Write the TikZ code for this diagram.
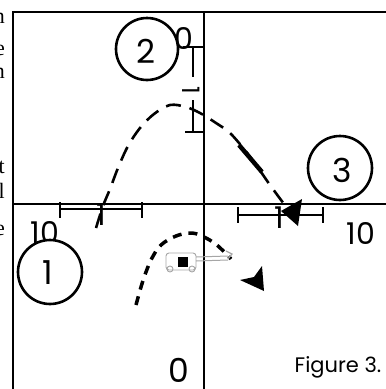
\documentclass[tikz,border=0pt]{standalone}
\usepackage{fontspec}
\setmainfont{Liberation Serif}
\newfontfamily\gothic{Poppins}
\begin{document}
\begin{tikzpicture}[x=1pt,y=-1pt,
  ax/.style={line width=2.6pt},
  framel/.style={line width=2pt},
  bar/.style={line width=2.8pt},
  ring/.style={circle, draw, line width=2.6pt, fill=white, minimum size=62pt, inner sep=0pt},
  num/.style={font=\gothic\fontsize{30}{30}\selectfont, inner sep=0pt},
  bignum/.style={font=\gothic\fontsize{33}{33}\selectfont, inner sep=0pt},
  traj/.style={line width=2.6pt, dash pattern=on 15pt off 9pt},
  trajb/.style={line width=3.5pt, dash pattern=on 9pt off 7pt},
  marg/.style={font=\fontsize{22}{22}\selectfont, anchor=base east, inner sep=0pt}]
\useasboundingbox (0,0) rectangle (386,389);
% margin letters (cut-off page text)
\node[marg] (m1) at (5,23) {n};
\node[marg] (m2) at (5,55) {e};
\node[marg] (m3) at (5,78) {n};
\node[marg] (m4) at (5,173) {t};
\node[marg] (m5) at (5,198) {l};
\node[marg] (m6) at (5,235) {e};
% frame
\draw[framel] (13,389) -- (13,12) -- (386,12);
% axes
\draw[ax] (204,12) -- (204,389);
\draw[ax] (13,204) -- (386,204);
% axis labels
\node[num] (top0) at (184,38) {0};
\node[bignum] (bot0) at (179,370) {0};
\node[num] (l10) at (45,232) {10};
\node[num] (r10) at (361,233) {10};
\node[font=\gothic\fontsize{21}{21}\selectfont, inner sep=0pt] (fig) at (338,367) {Figure 3.};
% error bars
\draw[bar] (60,209) -- (142,209);
\draw[bar] (60,202) -- (60,218);
\draw[bar] (142,202) -- (142,218);
\node[num] (e1) at (101,215) {1};
\draw[bar] (238,215) -- (323,215);
\draw[bar] (238,207) -- (238,223);
\draw[bar] (323,207) -- (323,223);
\node[num] (e2) at (279,218) {1};
\draw[bar] (193,47) -- (193,77);
\draw[bar] (193,100) -- (193,132);
\draw[bar] (183,47) -- (204,47);
\draw[bar] (185,132) -- (205,132);
\node[num, rotate=-90, font=\gothic\fontsize{24}{24}\selectfont] (e3) at (191,90) {1};
% trajectory 1
\draw[traj] plot[smooth, tension=0.55] coordinates {(96,228) (103,206) (110,189) (118,168) (128,146) (140,128) (154,114) (170,105) (186,107) (200,113) (216,123) (231,134) (251,158) (270,185) (284,204)};
\draw[line width=4.5pt] (239,145) -- (262,172);
\fill (281,211) -- (302,199) -- (298,226) -- cycle;
% trajectory 2
\draw[trajb] plot[smooth, tension=0.6] coordinates {(136,305) (141,287) (146,272) (152,258) (161,245) (176,236) (192,233) (206,238) (218,246) (231,259)};
\fill (264,291) -- (240,280) -- (254,277) -- (262,266) -- cycle;
% small object
\draw[gray!70, line width=0.9pt, rounded corners=3pt] (166,253) rectangle (196,270);
\draw[gray!70, line width=0.9pt] (170,269) circle (3pt) (192,269) circle (3pt);
\fill (178,257) rectangle (188,267);
\draw[gray!70, line width=1pt] (196,257) -- (228,256) (196,261) -- (228,260);
\draw[gray!70, line width=1.2pt] (226,251) -- (232,254) -- (228,259);
% circled numbers
\node[ring] (c2) at (147,49) {};
\node[bignum] (n2) at (146,51) {2};
\node[ring, minimum size=64pt] (c1) at (50,272) {};
\node[bignum] (n1) at (48,273) {1};
\node[ring, minimum size=64pt] (c3) at (340,168) {};
\node[bignum] (n3) at (342,170) {3};
\end{tikzpicture}
\end{document}
